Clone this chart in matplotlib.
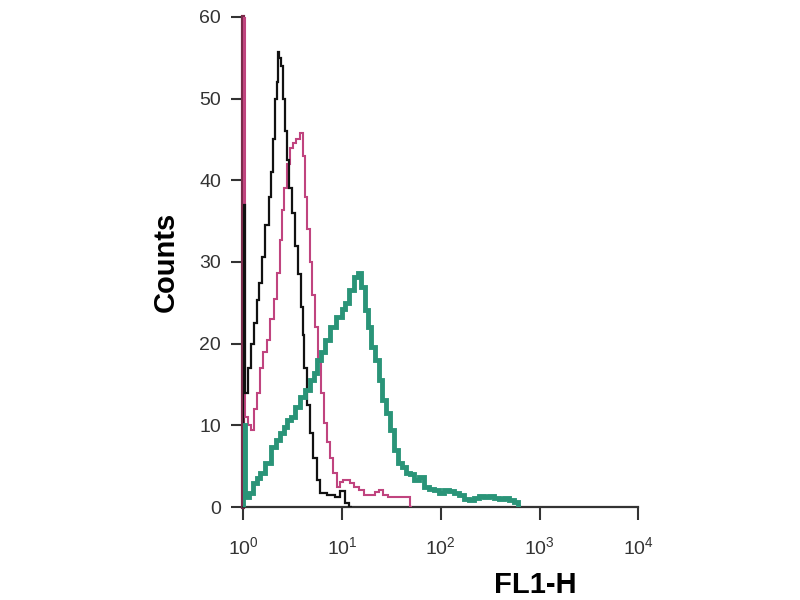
import numpy as np
import matplotlib
matplotlib.use("Agg")
import matplotlib.pyplot as plt

plt.rcParams['font.family'] = ['Liberation Sans', 'DejaVu Sans']
plt.rcParams['mathtext.fontset'] = 'custom'
plt.rcParams['mathtext.rm'] = 'Liberation Sans'
plt.rcParams['mathtext.it'] = 'Liberation Sans'

# Black (isotype / unstained control)
black_x = [1.0, 1.07, 1.15, 1.23, 1.32, 1.42, 1.48, 1.59, 1.75, 1.87, 1.96, 2.06, 2.15, 2.20,
           2.28, 2.36, 2.48, 2.60, 2.72, 2.85, 2.98, 3.20, 3.43, 3.68, 3.94, 4.04, 4.23, 4.54,
           4.86, 5.34, 5.72, 6.28, 7.92, 9.11, 10.2, 11.2, 12.6]
black_y = [37, 14, 17, 20, 22.5, 25.3, 27.4, 30.6, 34.5, 38, 41, 45, 50, 52,
           55.7, 55, 54, 50, 46, 42.5, 39, 36, 32, 28.5, 24.5, 21, 17, 12.5,
           9, 6, 3.3, 1.7, 1.5, 1.2, 2, 0.5, 0]

# Magenta
mag_x = [1.0, 1.07, 1.15, 1.26, 1.32, 1.42, 1.52, 1.67, 1.79, 1.96, 2.10, 2.26, 2.42, 2.54,
         2.66, 2.85, 3.06, 3.27, 3.59, 3.85, 4.13, 4.33, 4.54, 4.86, 5.10, 5.46, 5.85, 6.28,
         6.73, 7.22, 7.74, 8.50, 9.11, 10.0, 10.7, 11.5, 12.6, 14.2, 15.6, 17.5, 20.1, 23.1,
         24.8, 27.2, 31.9, 38.6, 47.5, 51.1]
mag_y = [80, 11, 10, 9.4, 12, 14, 17, 19, 20.5, 23, 25.5, 28.6, 32.7, 36.3,
         39, 42, 44, 44.5, 45, 45.8, 43, 38, 34, 30, 26, 22, 18, 14,
         10.3, 8, 6, 4.2, 2.5, 3.0, 3.3, 3.3, 2.9, 2.4, 2.1, 1.5, 1.5, 1.8,
         2.1, 1.5, 1.2, 1.2, 1.2, 0]

# Teal (stained)
teal_x = [1.0, 1.10, 1.18, 1.32, 1.42, 1.56, 1.79, 2.01, 2.26, 2.48, 2.66, 2.92, 3.13, 3.51,
          3.94, 4.54, 4.97, 5.34, 5.85, 6.28, 7.06, 8.10, 9.55, 10.5, 11.2, 12.6, 14.2, 14.9,
          16.3, 17.9, 19.2, 20.5, 23.1, 24.8, 26.5, 29.1, 31.9, 35.0, 38.6, 42.3, 46.4, 51.1,
          57.2, 64.3, 70.5, 81.0, 90.9, 102, 115, 129, 145, 163, 183, 205, 231, 259, 291, 326,
          366, 411, 464, 522, 585, 630]
teal_y = [10, 1.2, 1.7, 2.9, 3.5, 4.2, 5.4, 7.3, 8.2, 9.0, 9.8, 10.6, 11, 12.2,
          13.5, 14.3, 15.5, 16.4, 18, 19, 20.4, 22, 23.3, 24.2, 25, 26.6, 28.2, 28.6,
          26.9, 24.1, 22, 19.6, 18, 15.5, 13.1, 11.5, 9.4, 7, 5.4, 4.9, 4.2, 4.0,
          3.3, 3.7, 2.5, 2.2, 2.1, 1.7, 2.1, 2.0, 1.7, 1.5, 1.0, 0.9, 1.1, 1.3, 1.2, 1.3,
          1.1, 1.0, 1.1, 0.9, 0.6, 0]

y_ticks = [0, 10, 20, 30, 40, 50, 60]
x_ticks = [1, 10, 100, 1000, 10000]
x_ticklabels = [r'$10^0$', r'$10^1$', r'$10^2$', r'$10^3$', r'$10^4$']


def edges_from_centers(x):
    x = np.asarray(x, dtype=float)
    mids = np.sqrt(x[:-1] * x[1:])
    return np.concatenate([[x[0]], mids, [x[-1]]])


fig = plt.figure(figsize=(8, 6), dpi=100)
ax = fig.add_axes([0.304, 0.155, 0.494, 0.817])

ax.stairs(mag_y, edges_from_centers(mag_x), baseline=0, color='#c0447f', lw=1.5, zorder=3)
ax.stairs(black_y, edges_from_centers(black_x), baseline=0, color='#111111', lw=1.6, zorder=4)
ax.stairs(teal_y, edges_from_centers(teal_x), baseline=0, color='#2a9478', lw=3.5, zorder=5)

ax.set_xscale('log')
ax.set_xlim(1, 10000)
ax.set_ylim(0, 60)
ax.set_xticks(x_ticks)
ax.set_xticklabels(x_ticklabels)
ax.xaxis.set_minor_locator(matplotlib.ticker.NullLocator())
ax.set_yticks(y_ticks)

for s in ['top', 'right']:
    ax.spines[s].set_visible(False)
ax.spines['left'].set_color('#7a2a4a')
ax.spines['left'].set_linewidth(3)
ax.spines['left'].set_zorder(2)
ax.spines['bottom'].set_color('#333333')
ax.spines['bottom'].set_linewidth(1.6)

ax.tick_params(axis='both', direction='out', length=9, width=1.5, color='#333333',
               labelsize=14, labelcolor='#333333')
ax.tick_params(axis='x', pad=12)
ax.tick_params(axis='y', pad=7)

ax.set_ylabel('Counts', fontsize=21, fontweight='bold', labelpad=14)
ax.set_xlabel('FL1-H', fontsize=21, fontweight='bold')
ax.xaxis.set_label_coords(0.74, -0.13)

fig.savefig('out.png', dpi=100)
